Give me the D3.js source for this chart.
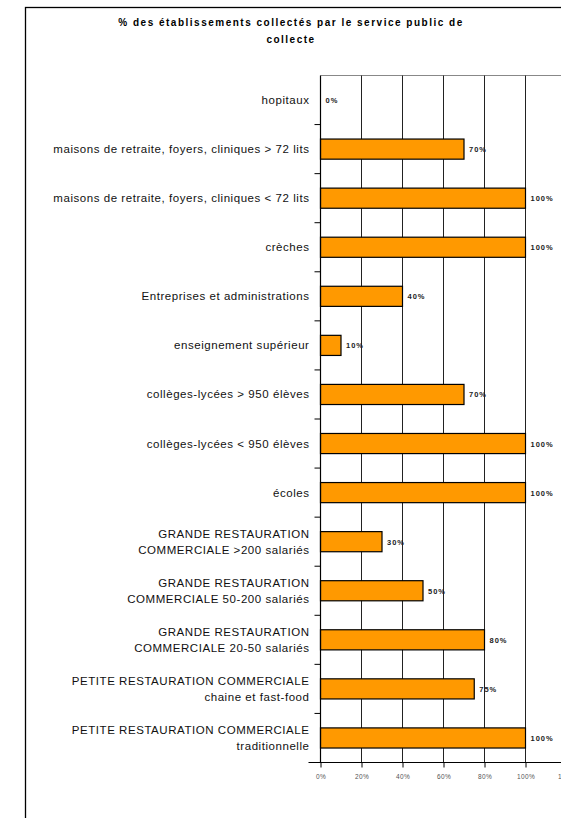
<!DOCTYPE html>
<html>
<head>
<meta charset="utf-8">
<script src="https://cdn.jsdelivr.net/npm/d3@7"></script>
<style>
  body { margin: 0; background: #fff; }
  svg { display: block; font-family: "Liberation Sans", Arial, sans-serif; }
</style>
</head>
<body>
<script>
// categories, top to bottom (multi-line labels split with "\n")
var categories = [
  "hopitaux",
  "maisons de retraite, foyers, cliniques > 72 lits",
  "maisons de retraite, foyers, cliniques < 72 lits",
  "crèches",
  "Entreprises et administrations",
  "enseignement supérieur",
  "collèges-lycées > 950 élèves",
  "collèges-lycées < 950 élèves",
  "écoles",
  "GRANDE RESTAURATION\nCOMMERCIALE >200 salariés",
  "GRANDE RESTAURATION\nCOMMERCIALE 50-200 salariés",
  "GRANDE RESTAURATION\nCOMMERCIALE 20-50 salariés",
  "PETITE RESTAURATION COMMERCIALE\nchaine et fast-food",
  "PETITE RESTAURATION COMMERCIALE\ntraditionnelle"
];
var values = [0, 70, 100, 100, 40, 10, 70, 100, 100, 30, 50, 80, 75, 100];
var xTicks = [0, 20, 40, 60, 80, 100, 120];
var titleLines = ["% des établissements collectés par le service public de", "collecte"];

var svgwidth = 561, svgheight = 818;
var margin = { top: 75.5, left: 320.5 };
var plotW = 246, plotH = 687;

var svg = d3.select("body").append("svg")
    .attr("width", svgwidth)
    .attr("height", svgheight);

// outer frame
svg.append("rect")
    .attr("x", 25.5).attr("y", 7.5)
    .attr("width", 700).attr("height", 900)
    .attr("fill", "none").attr("stroke", "#000").attr("stroke-width", 1.3);

// title
svg.append("g").selectAll("text")
    .data(titleLines).enter().append("text")
    .attr("x", 291).attr("y", function(d, i) { return 26 + i * 17; })
    .attr("text-anchor", "middle")
    .attr("font-size", 10).attr("font-weight", "bold")
    .attr("letter-spacing", 1.5)
    .text(function(d) { return d; });

var g = svg.append("g")
    .attr("transform", "translate(" + margin.left + "," + margin.top + ")");

var x = d3.scaleLinear().domain([0, 120]).range([0, plotW]);
var y = d3.scaleBand().domain(categories).range([0, plotH]).paddingInner(0.59).paddingOuter(0.295);
var step = y.step();

// plot top border
g.append("line")
    .attr("x1", 0).attr("x2", plotW).attr("y1", 0).attr("y2", 0)
    .attr("stroke", "#888").attr("stroke-width", 1);

// gridlines
g.append("g").selectAll("line")
    .data(xTicks.slice(1)).enter().append("line")
    .attr("x1", function(d) { return x(d); }).attr("x2", function(d) { return x(d); })
    .attr("y1", 0).attr("y2", plotH)
    .attr("stroke", "#222").attr("stroke-width", 1);

// bars
g.append("g").selectAll("rect")
    .data(values).enter().append("rect")
    .attr("x", x(0))
    .attr("y", function(d, i) { return y(categories[i]); })
    .attr("width", function(d) { return x(d) - x(0); })
    .attr("height", y.bandwidth())
    .attr("fill", "#FF9900")
    .attr("stroke", "#000").attr("stroke-width", 1.2);

// value labels
g.append("g").selectAll("text")
    .data(values).enter().append("text")
    .attr("x", function(d) { return x(d) + 5; })
    .attr("y", function(d, i) { return y(categories[i]) + y.bandwidth() / 2 + 3; })
    .attr("font-size", 7.5).attr("font-weight", "bold")
    .attr("letter-spacing", 1).attr("fill", "#222")
    .text(function(d) { return d + "%"; });

// x axis
var xAxis = g.append("g")
    .attr("transform", "translate(0," + plotH + ")")
    .call(d3.axisBottom(x).tickValues(xTicks).tickSize(5).tickSizeOuter(0)
        .tickFormat(function(d) { return d + "%"; }));
xAxis.select(".domain").attr("stroke", "#000").attr("stroke-width", 1.2).attr("d", "M-12,0H" + plotW);
xAxis.selectAll(".tick line").attr("stroke", "#000");
xAxis.selectAll(".tick text").attr("font-size", 6.5).attr("fill", "#555")
    .attr("letter-spacing", 0.4)
    .attr("dy", "1.3em").attr("font-family", "Liberation Sans, Arial, sans-serif");

// y axis: line plus ticks at band boundaries
g.append("line")
    .attr("x1", 0).attr("x2", 0).attr("y1", 0).attr("y2", plotH)
    .attr("stroke", "#000").attr("stroke-width", 1.2);
g.append("g").selectAll("line")
    .data(d3.range(1, categories.length)).enter().append("line")
    .attr("x1", -6).attr("x2", 0)
    .attr("y1", function(d) { return d * step; }).attr("y2", function(d) { return d * step; })
    .attr("stroke", "#000");

// category labels
var lab = g.append("g").selectAll("text")
    .data(categories).enter().append("text")
    .attr("text-anchor", "end")
    .attr("font-size", 11.5).attr("fill", "#111")
    .attr("letter-spacing", 0.55)
    .attr("y", function(d) {
        var n = d.split("\n").length;
        return y(d) + y.bandwidth() / 2 + 4 - (n - 1) * 8;
    });
lab.selectAll("tspan")
    .data(function(d) { return d.split("\n"); }).enter().append("tspan")
    .attr("x", -11)
    .attr("dy", function(d, i) { return i === 0 ? 0 : 16; })
    .text(function(d) { return d; });
</script>
</body>
</html>
